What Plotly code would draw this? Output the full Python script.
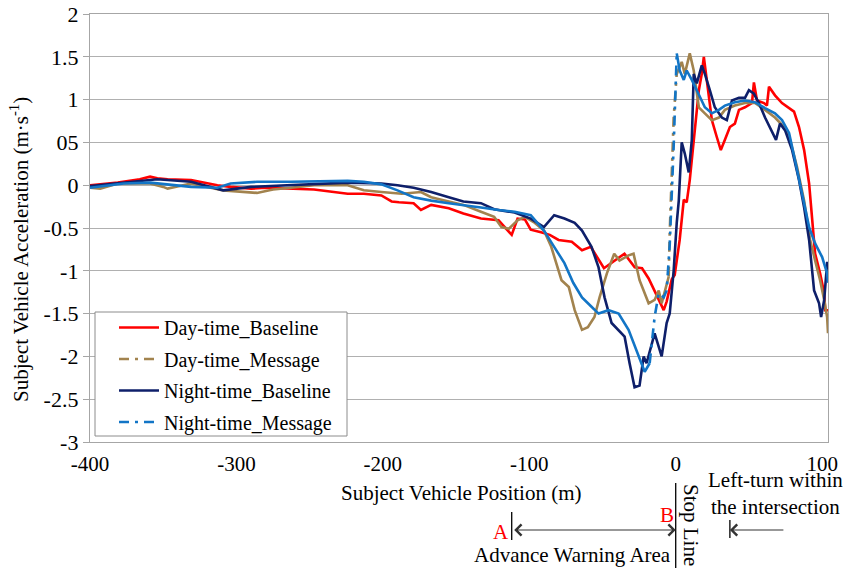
import numpy as np
import plotly.graph_objects as go

# ---------------- data (position in m, acceleration in m/s^2) ----------------
x_day_base = [-400, -393, -381, -366, -359, -354, -347, -331, -325, -313, -304, -290, -280, -263, -247,
              -224, -213, -201, -194, -189, -179, -174, -167, -155, -145, -133, -124, -121, -112, -108,
              -103, -99, -92, -86, -80, -71, -64, -58, -49, -42, -35, -28, -23, -18.5, -14.4,
              -8.2, -6.2, -2.7, -0.7, 2.7, 5.5, 7.5, 9.6, 12.3, 15.8, 17.8, 19.2, 21.2, 24.7, 28.1,
              30.8, 33.6, 37, 40.4, 43.2, 47.3, 52.1, 53.4, 55.5, 60.3, 62.3, 63.7, 67.8, 72.6, 77.4,
              80.8, 84.2, 87.7, 91.1, 93.2, 95.2, 98.6, 101.4, 102.1, 104]
y_day_base = [0.0, 0.01, 0.03, 0.07, 0.10, 0.08, 0.07, 0.06, 0.04, 0.0, -0.02, -0.04, -0.03, -0.04, -0.05,
              -0.10, -0.10, -0.12, -0.19, -0.20, -0.21, -0.29, -0.23, -0.27, -0.33, -0.39, -0.41, -0.41, -0.58, -0.39,
              -0.40, -0.52, -0.55, -0.58, -0.64, -0.66, -0.76, -0.72, -0.97, -0.88, -0.80, -0.96, -0.97, -1.09, -1.23,
              -1.46, -1.36, -1.10, -1.05, -0.64, -0.17, -0.20, 0.06, 0.53, 1.11, 1.30, 1.50, 1.23, 0.76, 0.56,
              0.41, 0.53, 0.68, 0.72, 0.88, 0.91, 0.96, 1.20, 0.99, 0.96, 0.93, 1.15, 1.05, 0.96, 0.90,
              0.86, 0.68, 0.41, 0.02, -0.44, -0.80, -1.03, -1.26, -1.46, -1.46]

x_day_msg = [-400, -393, -381, -359, -350, -347, -331, -309, -286, -275, -263, -247, -224, -213, -201,
             -187, -174, -167, -155, -145, -133, -124, -119, -114, -108, -103, -97, -90, -85, -78,
             -73, -69, -64, -60, -55.5, -52, -47, -42, -38.4, -32.2, -28.8, -24.7, -18.5, -14.4, -11.6,
             -9.6, -4.8, -4.1, -1.4, 0.7, 4.1, 6.2, 9.6, 12.3, 15.8, 19.9, 24.7, 29.5, 33.6, 40.4,
             47.3, 54.1, 61, 67.8, 74, 78.1, 82.9, 87.7, 91.8, 95.2, 98.6, 101.4, 103.4, 104]
y_day_msg = [-0.03, -0.04, 0.02, 0.02, -0.02, -0.04, 0.02, -0.06, -0.09, -0.05, -0.03, 0.0, 0.0, -0.06, -0.08,
             -0.10, -0.08, -0.14, -0.19, -0.23, -0.31, -0.37, -0.49, -0.51, -0.41, -0.37, -0.43, -0.53, -0.72, -1.11,
             -1.19, -1.46, -1.69, -1.66, -1.54, -1.31, -1.03, -0.80, -0.88, -0.82, -0.80, -1.11, -1.38, -1.34, -1.23,
             -1.38, -1.07, -0.56, 0.79, 1.30, 1.44, 1.30, 1.54, 1.34, 0.91, 0.84, 0.76, 0.79, 0.88, 0.93,
             0.96, 0.96, 0.88, 0.79, 0.68, 0.53, 0.21, -0.18, -0.64, -0.88, -1.11, -1.34, -1.54, -1.73]

x_night_base = [-400, -381, -366, -354, -331, -309, -290, -263, -247, -224, -201, -190, -179, -167, -155,
                -145, -133, -124, -110, -99, -90, -83, -76, -69, -64, -57.5, -52.7, -48.6, -43.8, -39,
                -34.9, -31.5, -28.1, -24.7, -21.9, -19.9, -14.4, -9.6, -6.2, -4.1, -1.4, 0.7, 2.1, 4.1, 6.2,
                8.9, 11, 12.3, 14.4, 17.8, 19.9, 23.3, 26.7, 31.5, 34.9, 38.4, 43.2, 47.3, 50, 53.4,
                56.8, 61, 64.4, 68.5, 71.2, 74.7, 79.5, 84.2, 87.7, 91.1, 94.5, 97.9, 99.3, 101.4, 103.4,
                104]
y_night_base = [-0.01, 0.02, 0.05, 0.07, 0.04, -0.06, -0.02, 0.0, 0.02, 0.03, 0.02, 0.0, -0.03, -0.08, -0.14,
                -0.19, -0.21, -0.28, -0.32, -0.39, -0.49, -0.35, -0.39, -0.44, -0.53, -0.72, -0.96, -1.31, -1.61, -1.69,
                -1.77, -2.08, -2.36, -2.34, -2.00, -2.08, -1.73, -2.00, -1.61, -1.50, -1.00, -0.44, -0.18, 0.50, 0.37,
                0.15, 0.53, 1.30, 1.19, 1.40, 1.30, 1.11, 0.91, 0.79, 0.76, 0.99, 1.02, 1.02, 1.11, 1.07,
                0.96, 0.79, 0.68, 0.53, 0.72, 0.64, 0.41, 0.06, -0.26, -0.64, -1.23, -1.38, -1.54, -1.34, -0.91,
                -0.91]

x_night_msg = [-400, -377, -359, -331, -313, -304, -286, -263, -224, -213, -201, -190, -179, -167, -155,
               -145, -133, -121, -110, -99, -90, -83, -76, -70, -64, -57.5, -52.7, -45.9, -39, -32.2,
               -25.3, -21.2, -17.8, -14.4, -11.6, -8.2, -6.2, -4.1, -1.4, 0.7, 2.7, 5.5, 7.5, 11, 14.4,
               19.9, 24.7, 29.5, 33.6, 40.4, 47.3, 54.1, 61, 67.8, 72.6, 77.4, 81.5, 86.3, 91.1, 95.2,
               100, 103.4, 104]
y_night_msg = [-0.03, 0.02, 0.03, -0.02, -0.03, 0.02, 0.04, 0.04, 0.05, 0.04, 0.01, -0.06, -0.14, -0.18, -0.21,
               -0.23, -0.26, -0.29, -0.31, -0.35, -0.53, -0.72, -0.91, -1.14, -1.31, -1.42, -1.50, -1.46, -1.50, -1.69,
               -2.00, -2.18, -2.08, -1.54, -1.26, -1.31, -1.23, -0.70, 0.45, 1.54, 1.34, 1.23, 1.34, 1.23, 1.11,
               0.91, 0.84, 0.88, 0.93, 0.97, 0.99, 0.97, 0.90, 0.84, 0.76, 0.61, 0.29, -0.09, -0.49, -0.68,
               -0.84, -1.03, -1.14]

x_ticks = [-400, -300, -200, -100, 0, 100]
x_tick_labels = ["-400", "-300", "-200", "-100", "0", "100"]
y_ticks = [2, 1.5, 1, 0.5, 0, -0.5, -1, -1.5, -2, -2.5, -3]
y_tick_labels = ["2", "1.5", "1", "05", "0", "-0.5", "-1", "-1.5", "-2", "-2.5", "-3"]

# positions of the annotation marks below the chart (m)
pos_A = -112
pos_stop = 0
pos_left_turn = 37

for xs, ys in [(x_day_base, y_day_base), (x_day_msg, y_day_msg),
               (x_night_base, y_night_base), (x_night_msg, y_night_msg)]:
    assert len(xs) == len(ys)

SERIF = "Liberation Serif"
LW = 2.6
DASHDOT = "10px,6px,3px,6px"
FS = 21

fig = go.Figure()


def add_series(xs, ys, name, color, rank, dash_lo=None, dash_hi=None):
    xs = np.array(xs, dtype=float)
    ys = np.array(ys, dtype=float)
    if dash_lo is None:
        fig.add_trace(go.Scatter(x=xs, y=ys, mode="lines", name=name, legendgroup=name,
                                 legendrank=rank, line=dict(color=color, width=LW)))
        return
    solid = np.where((xs <= dash_lo) | (xs >= dash_hi), ys, np.nan)
    dmask = (xs >= dash_lo) & (xs <= dash_hi)
    fig.add_trace(go.Scatter(x=xs, y=solid, mode="lines", showlegend=False, legendgroup=name,
                             connectgaps=False, line=dict(color=color, width=LW)))
    fig.add_trace(go.Scatter(x=xs[dmask], y=ys[dmask], mode="lines", name=name, legendgroup=name,
                             legendrank=rank, line=dict(color=color, width=LW, dash=DASHDOT)))


add_series(x_day_base, y_day_base, "Day-time_Baseline", "#FF0000", 1)
add_series(x_day_msg, y_day_msg, "Day-time_Message", "#A2834E", 2, -4.8, 0.7)
add_series(x_night_base, y_night_base, "Night-time_Baseline", "#0E1F6A", 3)
add_series(x_night_msg, y_night_msg, "Night-time_Message", "#1275C6", 4, -17.8, 0.7)

# plot area pixel geometry: left 90, right 828, top 14, bottom 442
def py(p):
    return (442 - p) / 428.0


def px(p):
    return (p - 90) / 738.0


tfont = dict(family=SERIF, size=FS, color="black")
C = dict(xanchor="center", yanchor="middle", showarrow=False)

shapes = [
    # legend frame
    dict(type="rect", xref="paper", yref="paper", x0=px(95), x1=px(347), y0=py(436), y1=py(312),
         fillcolor="white", line=dict(color="#8C8C8C", width=1), layer="above"),
    dict(type="line", xref="x", yref="paper", x0=pos_A, x1=pos_A, y0=py(512), y1=py(540),
         line=dict(color="black", width=1.3)),
    dict(type="line", xref="x", yref="paper", x0=pos_stop, x1=pos_stop, y0=py(483), y1=py(568),
         line=dict(color="black", width=1.3)),
    dict(type="line", xref="x", yref="paper", x0=pos_left_turn, x1=pos_left_turn, y0=py(520), y1=py(538),
         line=dict(color="black", width=1.3)),
]

annotations = [
    dict(x=px(461), y=py(493), xref="paper", yref="paper", text="Subject Vehicle Position (m)",
         font=tfont, **C),
    dict(x=px(20), y=py(250), xref="paper", yref="paper",
         text="Subject Vehicle Acceleration (m·s<sup>-1</sup>)", textangle=-90, font=tfont, **C),
    dict(x=pos_stop, y=py(530), xref="x", yref="paper", text="", showarrow=True,
         axref="pixel", ayref="pixel", ax=-163, ay=0, arrowside="end+start",
         arrowhead=4, startarrowhead=4, arrowsize=1.8, startarrowsize=1.8, arrowwidth=1.2, arrowcolor="#333"),
    dict(x=pos_left_turn, y=py(530), xref="x", yref="paper", text="", showarrow=True,
         axref="pixel", ayref="pixel", ax=55, ay=0,
         arrowhead=4, arrowsize=1.8, arrowwidth=1.2, arrowcolor="#333"),
    dict(x=-119, y=py(532), xref="x", yref="paper", text="A",
         font=dict(family=SERIF, size=FS, color="#FF0000"), **C),
    dict(x=-6, y=py(515), xref="x", yref="paper", text="B",
         font=dict(family=SERIF, size=FS, color="#FF0000"), **C),
    dict(x=px(572), y=py(555), xref="paper", yref="paper",
         text="Advance Warning Area", font=tfont, **C),
    dict(x=px(691), y=py(525), xref="paper", yref="paper", text="Stop Line",
         textangle=90, font=tfont, **C),
    dict(x=px(775), y=py(494), xref="paper", yref="paper", text="Left-turn within<br>the intersection",
         font=tfont, align="center", **C),
]

fig.update_layout(
    width=843, height=570,
    margin=dict(l=90, r=15, t=14, b=128, autoexpand=False),
    paper_bgcolor="white", plot_bgcolor="white",
    font=dict(family=SERIF, size=FS, color="black"),
    xaxis=dict(range=[-400, 104], tickvals=x_ticks, ticktext=x_tick_labels, ticks="",
               showgrid=False, zeroline=False, showline=True, linecolor="#A6A6A6", linewidth=1.3,
               mirror=True, tickfont=tfont, ticklabelstandoff=3, automargin=False),
    yaxis=dict(range=[-3, 2], tickvals=y_ticks, ticktext=y_tick_labels, ticks="outside", ticklen=6,
               tickcolor="#A6A6A6", showgrid=True, gridcolor="#B0B0B0", gridwidth=1.3,
               zeroline=False, showline=True, linecolor="#A6A6A6", linewidth=1.3, mirror=True,
               tickfont=dict(family=SERIF, size=22, color="black"), automargin=False),
    legend=dict(x=px(114), y=py(308), xanchor="left", yanchor="top", bgcolor="rgba(0,0,0,0)",
                borderwidth=0, font=dict(family=SERIF, size=20, color="black"),
                tracegroupgap=2.5, itemwidth=40),
    shapes=shapes,
    annotations=annotations,
    showlegend=True,
)

fig.write_html(
    "out.html", config={"displayModeBar": False},
    post_script=("document.body.style.margin='0px';"
                 "document.body.style.overflow='hidden';"
                 "document.documentElement.style.overflow='hidden';"))
